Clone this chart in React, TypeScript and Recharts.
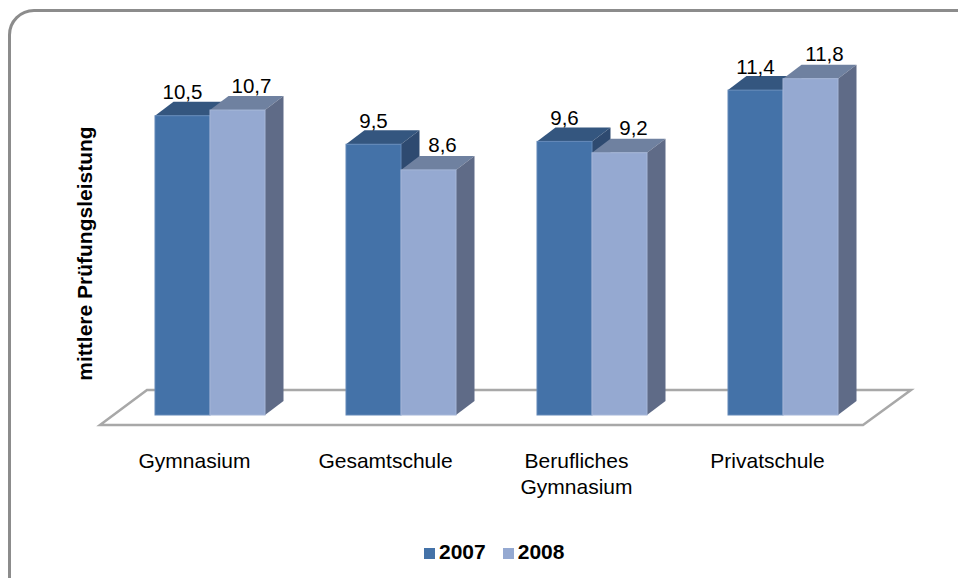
import React from "react";
import { Bar, BarChart, Label, LabelList, Legend, XAxis, YAxis, usePlotArea } from "recharts";

const categories = ["Gymnasium", "Gesamtschule", "Berufliches Gymnasium", "Privatschule"];
const values2007 = [10.5, 9.5, 9.6, 11.4];
const values2008 = [10.7, 8.6, 9.2, 11.8];

const data = categories.map((name, i) => ({
  name,
  v2007: values2007[i],
  v2008: values2008[i],
}));

const FONT = "'Liberation Sans', Arial, sans-serif";
const DEPTH_X = 18.5;
const DEPTH_Y = 14;

const Floor = () => {
  const plot = usePlotArea();
  if (!plot) return null;
  const left = plot.x;
  const right = plot.x + plot.width;
  const bottom = plot.y + plot.height;
  const front = bottom + 10;
  const back = bottom - 25;
  const pts = [
    [left - 14, front],
    [left + 33, back],
    [right + 33, back],
    [right - 15, front],
  ];
  return (
    <polygon
      points={pts.map((p) => p.join(",")).join(" ")}
      fill="#ffffff"
      stroke="#a8a8a8"
      strokeWidth={2.5}
    />
  );
};

const box3d = (front: string, top: string, side: string, edge: string) => (props: any) => {
  const { x, y, width, height } = props;
  return (
    <g>
      <polygon
        points={`${x},${y} ${x + DEPTH_X},${y - DEPTH_Y} ${x + width + DEPTH_X},${y - DEPTH_Y} ${x + width},${y}`}
        fill={top}
      />
      <polygon
        points={`${x + width},${y} ${x + width + DEPTH_X},${y - DEPTH_Y} ${x + width + DEPTH_X},${y + height - DEPTH_Y} ${x + width},${y + height}`}
        fill={side}
      />
      <rect x={x} y={y} width={width} height={height} fill={front} stroke={edge} strokeWidth={1} />
    </g>
  );
};

const valueLabel = (dx: number, dy: number) => (props: any) => {
  const { x, y, width, value } = props;
  return (
    <text
      x={x + width / 2 + dx}
      y={y - dy}
      textAnchor="middle"
      dominantBaseline="central"
      fontFamily={FONT}
      fontSize={20.5}
      fill="#000"
    >
      {String(value).replace(".", ",")}
    </text>
  );
};

const CategoryTick = (props: any) => {
  const { x, y, payload } = props;
  const words =
    payload.value === "Berufliches Gymnasium" ? payload.value.split(" ") : [payload.value];
  return (
    <text x={x - 15} y={y} textAnchor="middle" fontFamily={FONT} fontSize={21} fill="#000">
      {words.map((w: string, i: number) => (
        <tspan key={w} x={x - 15} dy={i === 0 ? 0 : 26}>
          {w}
        </tspan>
      ))}
    </text>
  );
};

const AxisTitle = (props: any) => {
  const { viewBox } = props;
  const cx = 92;
  const cy = viewBox.y + viewBox.height / 2 + 9.5;
  return (
    <text
      x={cx}
      y={cy}
      transform={`rotate(-90, ${cx}, ${cy})`}
      textAnchor="middle"
      fontFamily={FONT}
      fontSize={21}
      fontWeight="bold"
      fill="#000"
    >
      mittlere Prüfungsleistung
    </text>
  );
};

const App = () => (
  <div
    style={{
      position: "absolute",
      left: 0,
      top: 0,
      width: 958,
      height: 578,
      background: "#fff",
      overflow: "hidden",
    }}
  >
    <div
      style={{
        position: "absolute",
        left: 8,
        top: 9,
        width: 968,
        height: 590,
        border: "3px solid #8c8c8c",
        borderRadius: 26,
      }}
    />
    <BarChart
      width={958}
      height={578}
      data={data}
      margin={{ top: 73, right: 80, bottom: 76, left: 14 }}
      barGap={0}
      barSize={55}
      style={{ position: "absolute", left: 0, top: 0 }}
    >
      <Floor />
      <XAxis
        dataKey="name"
        axisLine={false}
        tickLine={false}
        height={63}
        interval={0}
        tick={<CategoryTick />}
        tickMargin={47}
      />
      <YAxis domain={[0, 12]} width={100} axisLine={false} tickLine={false} tick={false}>
        <Label content={<AxisTitle />} />
      </YAxis>
      <Legend
        verticalAlign="bottom"
        align="left"
        iconType="square"
        iconSize={11}
        wrapperStyle={{ left: 424, bottom: 14, width: 220, fontFamily: FONT, fontSize: 21, fontWeight: "bold" }}
        formatter={(v: string) => <span style={{ color: "#000", marginRight: 7 }}>{v}</span>}
      />
      <Bar
        dataKey="v2007"
        name="2007"
        fill="#4472a8"
        isAnimationActive={false}
        shape={box3d("#4472a8", "#34567f", "#2e4a70", "#6288b8")}
      >
        <LabelList dataKey="v2007" content={valueLabel(0, 24)} />
      </Bar>
      <Bar
        dataKey="v2008"
        name="2008"
        fill="#95a9d1"
        isAnimationActive={false}
        shape={box3d("#95a9d1", "#6f81a0", "#5f6b87", "#a5b6d8")}
      >
        <LabelList dataKey="v2008" content={valueLabel(14, 25)} />
      </Bar>
    </BarChart>
  </div>
);

export default App;
